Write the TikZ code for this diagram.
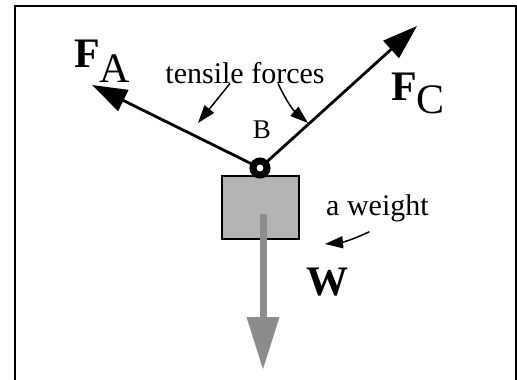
\documentclass[tikz,border=0pt]{standalone}
\usepackage{fontspec}
\setmainfont{Liberation Serif}
\usepackage{tikz}
\usetikzlibrary{arrows.meta,positioning,calc}
\definecolor{loadgray}{HTML}{8C8C8C}
\definecolor{boxgray}{HTML}{B3B3B3}

\begin{document}
\begin{tikzpicture}[x=1pt,y=-1pt,
  txt/.style={font=\fontsize{30}{34}\selectfont,inner sep=0pt},
  forcelbl/.style={font=\fontsize{42}{46}\selectfont,inner sep=0pt},
  rope/.style={line width=2.8pt,-{Triangle[length=35pt,width=23pt]}},
  pointer/.style={line width=1.5pt,-{Triangle[length=18pt,width=12pt]}},
  weightbox/.style={draw,line width=2.5pt,fill=boxgray,minimum width=77pt,
               minimum height=63pt,inner sep=0pt},
  ring/.style={circle,draw,line width=7pt,fill=white,minimum size=14pt,
               inner sep=0pt},
  load/.style={draw=loadgray,line width=7pt,
               -{Triangle[length=53pt,width=31pt,fill=loadgray]}},
  frame/.style={line width=2pt}
]
\useasboundingbox (0,0) rectangle (517,380);
\draw[frame] (15,380) |- (515.5,6) -- (515.5,380);

% the weight and its load
\node[weightbox] (box) at (260.5,207.5) {};
\coordinate (wtip) at (263,370);
\draw[load] ($(box.center)+(2.5,6)$) -- (wtip);

% ropes pulling on B
\coordinate (B) at (260,168);
\coordinate (tipA) at (92,85);
\coordinate (tipC) at (417,26);
\draw[rope] (B) -- (tipA);
\draw[rope] (B) -- (tipC);
\node[ring] (ring) at (B) {};

\node[txt,font=\fontsize{27}{30}\selectfont] (blbl) at (262,130) {B};
\node[forcelbl,anchor=base west] (fa) at (74,67)
  {\textbf{F}\lower15pt\hbox{A}};
\node[forcelbl,anchor=base west] (fc) at (391,100)
  {\textbf{F}\lower13pt\hbox{C}};
\node[forcelbl,anchor=base west] (w) at (306,295) {\textbf{W}};

% labels with pointers
\node[txt,anchor=base] (tens) at (245,83) {tensile forces};
\coordinate (onA) at (198,123);
\coordinate (onC) at (308,123);
\draw[pointer] ($(tens.south)+(-15,0)$) -- (onA);
\draw[pointer] ($(tens.south)+(33,0)$) to[bend right=12] (onC);

\node[txt,anchor=base west] (wt) at (326,215) {a weight};
\coordinate (onW) at (325,244);
\draw[pointer] ($(wt.south)+(-8,10)$) to[bend left=10] (onW);
\end{tikzpicture}
\end{document}
